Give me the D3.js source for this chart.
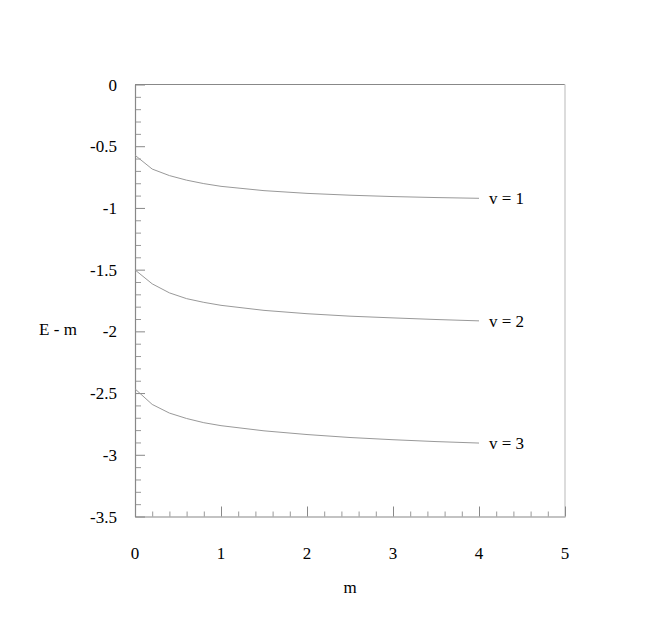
<!DOCTYPE html>
<html>
<head>
<meta charset="utf-8">
<script src="https://cdn.jsdelivr.net/npm/d3@7"></script>
<style>
  body { margin: 0; background: #fff; }
  svg text { font-family: "Liberation Serif", "DejaVu Serif", "Noto Serif", serif; }
</style>
</head>
<body>
<div id="chart"></div>
<script>
var svgWidth = 654;
var svgHeight = 631;

// values
var mValues = [0, 0.2, 0.4, 0.6, 0.8, 1.0, 1.5, 2.0, 2.5, 3.0, 3.5, 4.0];
var energyV1 = [-0.573, -0.685, -0.738, -0.775, -0.803, -0.825, -0.860, -0.882, -0.897, -0.908, -0.916, -0.922];
var energyV2 = [-1.502, -1.615, -1.688, -1.735, -1.765, -1.789, -1.830, -1.857, -1.877, -1.891, -1.904, -1.915];
var energyV3 = [-2.466, -2.592, -2.662, -2.706, -2.740, -2.764, -2.806, -2.836, -2.860, -2.878, -2.893, -2.905];
var seriesLabels = ["v = 1", "v = 2", "v = 3"];
var xTicks = [0, 1, 2, 3, 4, 5];
var yTicks = [0, -0.5, -1, -1.5, -2, -2.5, -3, -3.5];

var margin = { top: 84.5, right: 89, bottom: 114.5, left: 135 };
var chartWidth = svgWidth - margin.left - margin.right;
var chartHeight = svgHeight - margin.top - margin.bottom;

var svg = d3.select("#chart")
  .append("svg")
  .attr("width", svgWidth)
  .attr("height", svgHeight);

var chartGroup = svg.append("g")
  .attr("transform", `translate(${margin.left}, ${margin.top})`);

var xScale = d3.scaleLinear().domain([0, 5]).range([0, chartWidth]);
var yScale = d3.scaleLinear().domain([-3.5, 0]).range([chartHeight, 0]);

// frame
chartGroup.append("line")
  .attr("x1", 0).attr("x2", chartWidth).attr("y1", 0).attr("y2", 0)
  .attr("stroke", "#888").attr("stroke-width", 1.2);
chartGroup.append("line")
  .attr("x1", chartWidth).attr("x2", chartWidth).attr("y1", 0).attr("y2", chartHeight)
  .attr("stroke", "#d4d4d4").attr("stroke-width", 1.6);

// minor ticks
var xMinor = d3.range(0, 5.01, 0.2).filter(d => Math.abs(d - Math.round(d)) > 1e-6);
var yMinor = d3.range(-3.5, 0.001, 0.1).filter(d => Math.abs(d * 2 - Math.round(d * 2)) > 1e-6);

chartGroup.append("g")
  .attr("transform", `translate(0, ${chartHeight})`)
  .call(d3.axisTop(xScale).tickValues(xMinor).tickSize(5).tickFormat(""))
  .call(g => g.select(".domain").remove())
  .call(g => g.selectAll("line").attr("stroke", "#999"));

chartGroup.append("g")
  .call(d3.axisRight(yScale).tickValues(yMinor).tickSize(6).tickFormat(""))
  .call(g => g.select(".domain").remove())
  .call(g => g.selectAll("line").attr("stroke", "#999"));

// major ticks and axes
var xAxis = chartGroup.append("g")
  .attr("transform", `translate(0, ${chartHeight})`)
  .call(d3.axisTop(xScale).tickValues(xTicks).tickSize(10).tickSizeOuter(0).tickFormat(""));
xAxis.selectAll("line").attr("stroke", "#888");
xAxis.select(".domain").attr("stroke", "#888").attr("stroke-width", 1.2);

var yAxis = chartGroup.append("g")
  .call(d3.axisRight(yScale).tickValues(yTicks).tickSize(10).tickSizeOuter(0).tickFormat(""));
yAxis.selectAll("line").attr("stroke", "#888");
yAxis.select(".domain").attr("stroke", "#888").attr("stroke-width", 1.2);

// tick labels
chartGroup.selectAll(".xlab")
  .data(xTicks)
  .enter()
  .append("text")
  .attr("x", d => xScale(d))
  .attr("y", chartHeight + 42)
  .attr("text-anchor", "middle")
  .attr("font-size", 17)
  .text(d => d);

chartGroup.selectAll(".ylab")
  .data(yTicks)
  .enter()
  .append("text")
  .attr("x", -18)
  .attr("y", d => yScale(d) + 6)
  .attr("text-anchor", "end")
  .attr("font-size", 17)
  .text(d => d);

// axis titles
svg.append("text")
  .attr("x", margin.left + chartWidth / 2)
  .attr("y", 593)
  .attr("text-anchor", "middle")
  .attr("font-size", 17)
  .text("m");

svg.append("text")
  .attr("x", 58)
  .attr("y", 335)
  .attr("text-anchor", "middle")
  .attr("font-size", 17)
  .text("E - m");

// curves
var line = d3.line()
  .x(d => xScale(d[0]))
  .y(d => yScale(d[1]));

[energyV1, energyV2, energyV3].forEach((series, i) => {
  var pts = mValues.map((m, j) => [m, series[j]]);
  chartGroup.append("path")
    .datum(pts)
    .attr("fill", "none")
    .attr("stroke", "#999")
    .attr("stroke-width", 1)
    .attr("d", line);

  chartGroup.append("text")
    .attr("x", xScale(4) + 10)
    .attr("y", yScale(series[series.length - 1]) + 6)
    .attr("font-size", 17)
    .text(seriesLabels[i]);
});
</script>
</body>
</html>
